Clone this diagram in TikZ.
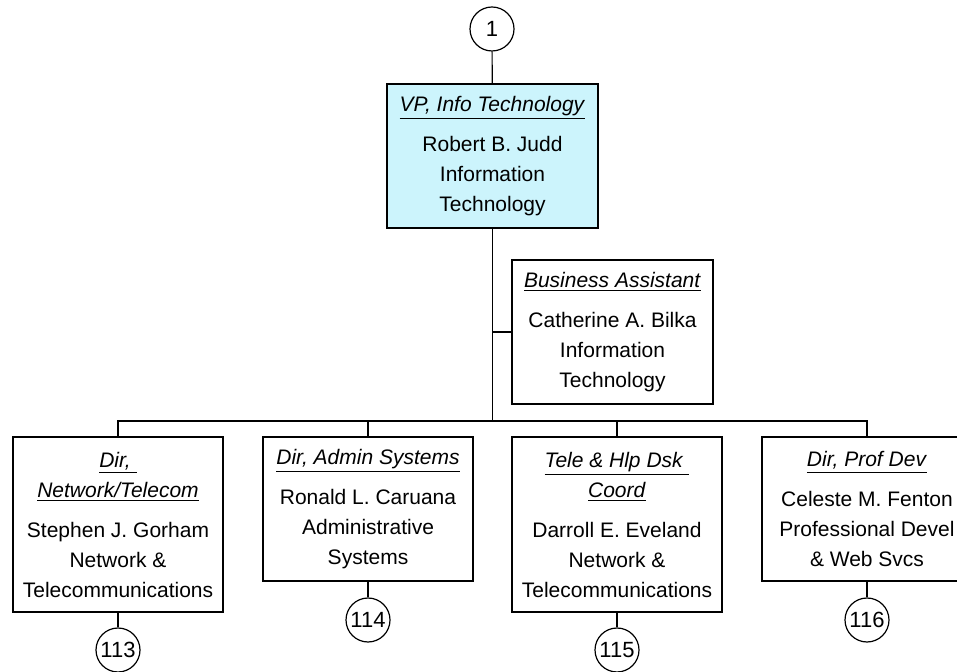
\documentclass[tikz,border=0pt]{standalone}
\usepackage{fontspec}
\setmainfont{Liberation Sans}
\definecolor{vpfill}{RGB}{204,244,252}
\tikzset{
  post/.style={draw, line width=0.6pt, align=center, inner sep=2pt, font=\fontsize{10.5}{15}\selectfont},
  ref/.style={draw, circle, fill=white, line width=0.6pt, minimum size=22pt, inner sep=0pt, font=\fontsize{11}{12}\selectfont},
}
\newcommand{\posttitle}[1]{\underline{\textit{#1}}}
\begin{document}
\begin{tikzpicture}[x=0.5pt, y=-0.5pt, line width=0.6pt]
                    \useasboundingbox (0,0) rectangle (957,672);
                    \clip (0,0) rectangle (957,672);

                    \node[ref] (r1) at (492,29) {1};
                    \node[post, fill=vpfill, minimum width=105.5pt, minimum height=72pt] (vp) at (492.5,156)
                        {\posttitle{VP, Info Technology}\\[5pt] Robert B. Judd\\ Information\\ Technology};
                    \node[post, minimum width=100.5pt, minimum height=72pt] (ba) at (612.5,332)
                        {\posttitle{Business Assistant}\\[5pt] Catherine A. Bilka\\ Information\\ Technology};

                    \node[post, minimum width=105pt, minimum height=87.5pt] (net) at (118,524.5)
                        {\posttitle{Dir,\ }\\ \posttitle{Network/Telecom}\\[5pt] Stephen J. Gorham\\ Network \&\\ Telecommunications};
                    \node[post, minimum width=105pt, minimum height=72pt] (adm) at (368,509)
                        {\posttitle{Dir, Admin Systems}\\[5pt] Ronald L. Caruana\\ Administrative\\ Systems};
                    \node[post, minimum width=105pt, minimum height=87.5pt] (tel) at (617,524.5)
                        {\posttitle{Tele \& Hlp Dsk\ }\\ \posttitle{Coord}\\[5pt] Darroll E. Eveland\\ Network \&\\ Telecommunications};
                    \node[post, minimum width=105pt, minimum height=72pt] (dev) at (867,509)
                        {\posttitle{Dir, Prof Dev}\\[5pt] Celeste M. Fenton\\ Professional Devel\\ \& Web Svcs};

                    \node[ref] (r113) at (118,650) {113};
                    \node[ref] (r114) at (368,620) {114};
                    \node[ref] (r115) at (617,650) {115};
                    \node[ref] (r116) at (867,620) {116};

                    \coordinate (bus) at (492.5,421);
                    \draw (r1) -- (vp);
                    \draw (vp) -- (bus);
                    \draw (vp.south |- ba.west) -- (ba.west);
                    \draw (net.north) -- (net.north |- bus) -- (dev.north |- bus) -- (dev.north);
                    \draw (adm.north) -- (adm.north |- bus);
                    \draw (tel.north) -- (tel.north |- bus);

                    \draw (net) -- (r113);
                    \draw (adm) -- (r114);
                    \draw (tel) -- (r115);
                    \draw (dev) -- (r116);
                \end{tikzpicture}
\end{document}
